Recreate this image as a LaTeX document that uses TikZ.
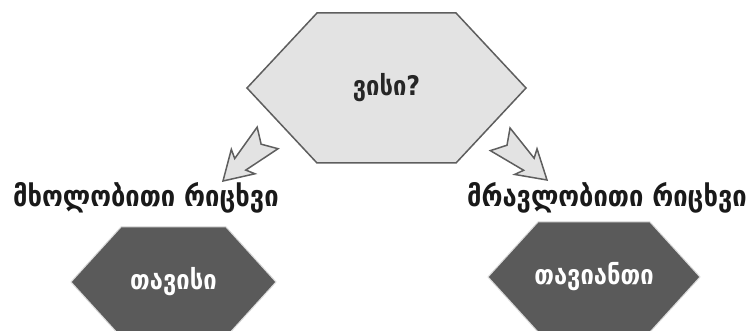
\documentclass[tikz,border=0pt]{standalone}
\usepackage{fontspec}
\setmainfont{DejaVu Sans}
\usetikzlibrary{positioning,backgrounds}
\definecolor{hexlight}{HTML}{E3E3E3}
\definecolor{hexdark}{HTML}{5A5A5A}
\definecolor{hexline}{HTML}{5E5E5E}
\newcommand{\drawHex}[5]{
    \draw[#5] ([shift={(-#2,0)}]#1.center) -- ([shift={(-#2+#4,#3)}]#1.center) -- ([shift={(#2-#4,#3)}]#1.center) -- ([shift={(#2,0)}]#1.center) -- ([shift={(#2-#4,-#3)}]#1.center) -- ([shift={(-#2+#4,-#3)}]#1.center) -- cycle
}
\newcommand{\blockArrow}[2]{
    \draw[arrowbody, shift={(#1)}, rotate=#2] (0,0) -- (-28,17) -- (-24,8) -- (-62,15) -- (-53,0) -- (-62,-15) -- (-24,-8) -- (-28,-17) -- cycle
}

\begin{document}
\begin{tikzpicture}[x=1pt,y=1pt,
    lighthex/.style={fill=hexlight, draw=hexline, line width=1.5pt},
    darkhex/.style={fill=hexdark, draw=black!15, line width=1pt},
    arrowbody/.style={fill=hexlight, draw=hexline, line width=1.5pt, line join=miter},
    label/.style={font=\fontsize{29}{33}\selectfont\bfseries, text=black!90, xscale=0.88},
    inner/.style={font=\fontsize{27}{31}\selectfont\bfseries, xscale=0.88}]
    \useasboundingbox (0,0) rectangle (756,331);
    \clip (0,0) rectangle (756,331);

    \node[inner, text=black!85] (who) at (386.5,243) {ვისი?};
    \node[inner, text=white] (own) at (173.5,49) {თავისი};
    \node[inner, text=white] (theirs) at (594,54) {თავიანთი};
    \node[label, anchor=base] (singular) at (146,124) {მხოლობითი რიცხვი};
    \node[label, anchor=base] (plural) at (607,124) {მრავლობითი რიცხვი};

    \begin{scope}[on background layer]
        \drawHex{who}{139.5}{75}{70}{lighthex};
        \drawHex{own}{102.5}{55}{50}{darkhex};
        \drawHex{theirs}{106}{55}{50}{darkhex};
    \end{scope}

    \coordinate (tipL) at (223,150);
    \coordinate (tipR) at (547,151);
    \blockArrow{tipL}{-136};
    \blockArrow{tipR}{-41};
\end{tikzpicture}
\end{document}
